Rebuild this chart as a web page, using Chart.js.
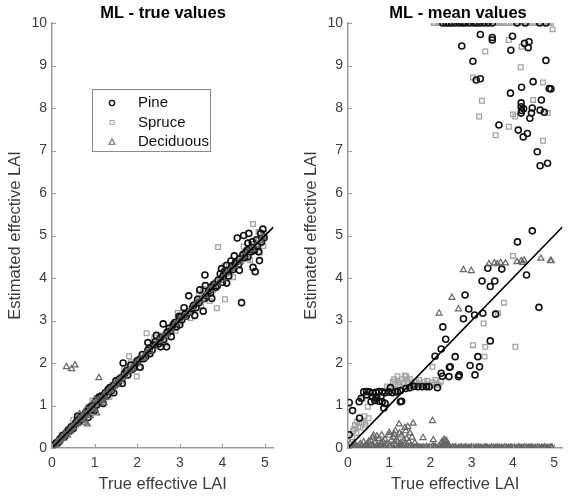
<!DOCTYPE html>
<html><head><meta charset="utf-8">
<script src="https://cdn.jsdelivr.net/npm/chart.js@4/dist/chart.umd.min.js"></script>
<style>
html,body{margin:0;padding:0;background:#fff;}
#wrap{position:relative;width:568px;height:500px;overflow:hidden;}
#c1{position:absolute;left:0;top:0;}
#c2{position:absolute;left:296px;top:0;}
</style></head><body>
<div id="wrap"><canvas id="c1" width="296" height="500"></canvas><canvas id="c2" width="272" height="500"></canvas></div>
<script>
// ---------- data ----------
const titles = ["ML - true values", "ML - mean values"];
const xLabel = "True effective LAI";
const yLabel = "Estimated effective LAI";
const seriesNames = ["Pine", "Spruce", "Deciduous"];
const xTicks = [0, 1, 2, 3, 4, 5];
const yTicks = [0, 1, 2, 3, 4, 5, 6, 7, 8, 9, 10];
const oneToOne = [[0, 0], [5.2, 5.2]];

// Left panel: ML - true values
const pineTrue = [[0.02,0.03],[0.05,0.06],[0.1,0.12],[0.15,0.13],[0.2,0.22],[0.25,0.3],[0.3,0.27],[0.38,0.42],[0.45,0.5],[0.5,0.46],[0.58,0.62],[0.65,0.7],[0.72,0.68],[0.8,0.85],[0.88,0.95],[0.95,0.9],[1.02,1.1],[1.1,1.2],[1.18,1.15],[1.25,1.3],[1.32,1.38],[1.4,1.35],[1.5,1.58],[1.55,1.52],[1.62,1.65],[1.67,2.0],[1.7,1.75],[1.78,1.72],[1.85,1.95],[1.92,1.88],[2.07,1.9],[2.05,2.08],[2.12,2.2],[2.2,2.15],[2.28,2.35],[2.35,2.3],[2.42,2.5],[2.5,2.45],[2.61,2.92],[2.62,2.55],[2.69,2.38],[2.7,2.72],[2.78,2.75],[2.85,2.9],[2.92,2.85],[2.98,3.1],[3.05,3.02],[3.12,3.15],[3.21,3.58],[3.25,3.2],[3.32,3.35],[3.38,3.3],[3.45,3.42],[3.47,3.72],[3.55,3.22],[3.59,4.07],[3.62,3.58],[3.68,3.7],[3.72,3.65],[3.8,3.85],[3.85,3.78],[3.9,3.95],[3.95,4.1],[4.0,3.9],[4.05,4.15],[4.1,4.3],[4.15,4.05],[4.2,4.4],[4.25,4.2],[4.3,4.35],[4.35,4.94],[4.4,4.45],[4.45,3.42],[4.48,4.55],[4.55,4.6],[4.6,4.5],[4.65,4.7],[4.7,4.85],[4.75,4.65],[4.77,4.15],[4.8,4.9],[4.87,4.41],[4.9,5.05],[4.95,5.15],[4.72,4.25],[4.5,5.0],[4.62,5.05],[3.0,2.9],[2.3,2.22],[1.3,1.24],[0.7,0.76],
[0.08,0.1],[0.18,0.2],[0.33,0.35],[0.42,0.4],[0.55,0.58],[0.62,0.6],[0.78,0.8],[0.92,0.98],[1.05,1.02],[1.15,1.22],[1.22,1.2],[1.36,1.42],[1.45,1.48],[1.58,1.62],[1.75,1.82],[1.88,1.85],[2.0,2.05],[2.15,2.1],[2.25,2.3],[2.38,2.42],[2.55,2.6],[2.75,2.82],[2.88,2.95],[3.02,3.08],[3.15,3.1],[3.3,3.28],[3.42,3.5],[3.58,3.52],[3.75,3.8],[3.88,3.82],[4.02,4.05],[4.12,4.18],[4.22,4.28],[4.38,4.32],[4.52,4.48],[4.58,4.65],[4.68,4.62],[4.82,4.75],[4.92,4.85],[4.98,4.95],
[0.85,0.72],[1.2,1.05],[1.45,1.3],[1.65,1.52],[2.25,2.48],[2.45,2.65],[2.55,2.38],[2.8,2.62],[3.1,3.3],[3.35,3.12],[3.6,3.82],[3.75,3.52],[3.98,4.22],[4.1,3.88],[4.28,4.52],[4.4,4.18],[4.6,4.82],[4.85,4.62],[0.6,0.75],[1.0,0.88]];
const spruceTrue = [[0.03,0.02],[0.08,0.1],[0.12,0.1],[0.18,0.2],[0.22,0.26],[0.28,0.25],[0.33,0.36],[0.4,0.38],[0.46,0.5],[0.52,0.55],[0.6,0.58],[0.68,0.72],[0.75,0.78],[0.82,0.8],[0.9,0.95],[0.98,1.02],[1.05,1.0],[1.12,1.18],[1.2,1.25],[1.28,1.22],[1.35,1.4],[1.42,1.48],[1.48,1.45],[1.55,1.6],[1.62,1.58],[1.68,1.72],[1.75,1.8],[1.81,2.16],[1.86,1.83],[1.92,1.98],[1.99,1.68],[2.02,2.05],[2.08,2.12],[2.15,2.1],[2.22,2.7],[2.25,2.28],[2.3,2.35],[2.38,2.4],[2.45,2.5],[2.52,2.48],[2.6,2.65],[2.68,2.62],[2.75,2.8],[2.82,2.88],[2.88,2.85],[2.95,3.0],[3.02,2.98],[3.1,3.12],[3.15,3.2],[3.22,3.28],[3.3,3.25],[3.36,3.4],[3.42,3.48],[3.48,3.45],[3.55,3.5],[3.6,3.65],[3.66,3.62],[3.72,3.78],[3.78,3.72],[3.84,3.9],[3.87,3.29],[3.9,4.73],[3.95,3.98],[4.0,4.05],[4.06,3.5],[4.08,4.12],[4.12,4.2],[4.18,4.15],[4.22,4.3],[4.28,4.25],[4.33,4.4],[4.38,4.42],[4.42,4.38],[4.48,4.52],[4.52,4.6],[4.58,4.55],[4.62,4.7],[4.68,4.65],[4.72,5.27],[4.75,4.8],[4.8,4.78],[4.85,4.92],[4.88,4.6],[4.92,4.98],[4.96,4.75],[4.98,5.05],[2.9,2.75],[3.5,3.35],[4.6,4.45],[1.3,1.35],[0.7,0.65],
[0.06,0.05],[0.15,0.17],[0.25,0.28],[0.36,0.33],[0.44,0.47],[0.56,0.53],[0.64,0.68],[0.78,0.75],[0.86,0.9],[0.94,0.92],[1.08,1.12],[1.16,1.13],[1.24,1.28],[1.38,1.35],[1.52,1.55],[1.65,1.62],[1.78,1.75],[1.95,1.92],[2.12,2.18],[2.28,2.25],[2.42,2.45],[2.56,2.55],[2.72,2.7],[2.85,2.92],[2.98,2.95],[3.12,3.18],[3.26,3.22],[3.4,3.42],[3.52,3.58],[3.68,3.65],[3.8,3.85],[3.98,3.95],[4.15,4.1],[4.3,4.35],[4.45,4.4],[4.55,4.62],[4.7,4.72],[4.82,4.88],[4.9,4.82],[4.95,5.0],
[0.5,0.66],[0.95,1.12],[1.35,1.2],[1.7,1.88],[2.05,1.88],[2.4,2.6],[2.65,2.46],[2.95,3.18],[3.25,3.06],[3.55,3.74],[3.7,3.46],[4.05,4.28],[4.25,4.02],[4.5,4.74],[4.65,4.42],[4.85,5.08],[1.85,2.02],[3.45,3.64]];
const deciduousTrue = [[0.02,0.0],[0.05,0.04],[0.1,0.08],[0.14,0.16],[0.18,0.15],[0.22,0.24],[0.26,0.22],[0.3,0.32],[0.34,1.91],[0.36,0.3],[0.4,0.42],[0.44,0.4],[0.46,1.86],[0.5,0.48],[0.54,1.95],[0.55,0.56],[0.6,0.58],[0.65,0.68],[0.7,0.66],[0.75,0.78],[0.8,0.92],[0.83,0.56],[0.88,0.9],[0.92,0.95],[0.98,0.96],[1.02,1.05],[1.05,0.82],[1.08,1.12],[1.1,1.65],[1.15,1.1],[1.2,1.22],[1.25,1.18],[1.3,1.32],[1.38,1.35],[1.45,1.48],[1.52,1.5],[1.6,1.62],[1.7,1.68],[1.8,1.82],[1.9,1.88],[2.0,2.02],[2.15,2.12],[2.3,2.28],[2.5,2.52],[2.7,2.68],[2.9,2.92],[3.1,3.08],[3.3,3.3],[3.5,3.48],[3.7,3.72],[3.9,3.88],[4.1,4.12],[4.3,4.28],[4.5,4.52],[4.7,4.68],[4.9,4.88],
[0.08,0.07],[0.12,0.14],[0.2,0.19],[0.28,0.3],[0.38,0.36],[0.48,0.5],[0.58,0.6],[0.68,0.7],[0.72,0.74],[0.85,0.82],[0.95,0.92],[1.12,1.15],[1.22,1.25],[1.35,1.38],[1.42,1.4],[1.55,1.58],[1.65,1.65],[1.75,1.78],[1.85,1.85],[2.08,2.1],[2.22,2.25],[2.4,2.38],[2.6,2.62],[2.8,2.78],[3.0,3.02],[3.2,3.18],[3.4,3.42],[3.6,3.58],[3.8,3.82],[4.0,3.98],[4.2,4.22],[4.4,4.38],[4.6,4.62],[4.8,4.78],[4.95,4.96],
[0.78,0.6],[0.9,0.76],[1.0,1.14],[1.22,1.06],[0.65,0.8]];

// Right panel: ML - mean values
const pineMean = [[2.3,10],[2.38,10],[2.45,10],[2.52,10],[2.6,10],[2.7,10],[2.78,10],[2.85,10],[2.95,10],[3.05,10],[3.12,10],[3.2,10],[3.3,10],[3.4,10],[3.5,10],[4.1,10],[4.3,10],[4.65,10],[4.8,10],
[2.76,9.46],[3.21,9.73],[3.5,9.6],[3.5,9.66],[3.99,9.69],[3.95,9.36],[4.28,9.52],[4.39,9.56],[4.37,9.42],[3.03,9.1],[3.11,8.66],[3.21,8.69],[4.8,9.12],[4.49,8.62],[4.21,8.49],[3.94,8.35],[4.88,8.46],[4.92,8.45],[4.2,8.12],[4.2,8.03],[4.21,7.94],[4.2,7.88],[4.26,7.98],[4.47,8.0],[4.45,7.88],[4.69,8.19],[4.66,7.95],[4.76,7.9],[4.41,7.76],[3.66,7.6],[4.13,7.48],[4.25,7.32],[4.35,7.4],[4.59,6.97],[4.66,6.64],[4.84,6.7],
[4.47,5.11],[4.11,4.85],[3.39,4.23],[3.73,4.21],[3.25,3.93],[3.56,3.93],[3.45,3.8],[4.33,4.07],[2.84,3.6],[2.93,3.27],[2.8,3.04],[3.07,3.13],[3.27,3.17],[3.58,3.15],[4.63,3.31],[2.3,2.85],[2.37,2.56],[2.26,2.33],[3.45,2.52],[2.6,2.15],[3.15,2.15],[2.96,1.94],[3.19,1.91],[2.7,1.72],[3.08,1.72],[2.48,1.91],[2.26,1.76],[2.29,1.69],[2.11,2.16],[2.45,1.68],[2.68,1.68],[2.46,1.9],
[1.7,1.44],[1.8,1.44],[1.9,1.44],[1.97,1.44],[2.17,1.42],[0.38,1.32],[0.52,1.32],[0.68,1.31],[0.83,1.32],[0.99,1.32],[1.15,1.33],[1.27,1.35],[0.03,1.07],[0.11,0.88],[0.27,1.09],[0.32,1.17],[0.56,1.09],[0.65,1.12],[0.75,1.1],[0.83,1.09],[1.27,1.09],[0.28,0.7],[0.03,0.31],[0.87,0.94],[1.03,1.42],[1.3,1.1],[0.6,1.2],[0.7,1.18],[1.5,1.42],[1.6,1.45],[0.9,1.05],[0.45,1.25],[0.45,1.33],[0.6,1.3],[0.75,1.33],[0.9,1.3],[1.08,1.3],[1.2,1.32],[0.8,1.22],[1.4,1.4]];
const spruceMean = [[2.08,10],[2.12,10],[2.18,10],[2.22,10],[2.25,10],[2.28,10],[2.32,10],[2.36,10],[2.4,10],[2.44,10],[2.48,10],[2.52,10],[2.55,10],[2.58,10],[2.62,10],[2.66,10],[2.7,10],[2.74,10],[2.78,10],[2.82,10],[2.86,10],[2.9,10],[2.94,10],[2.98,10],[3.02,10],[3.06,10],[3.12,10],[3.18,10],[3.22,10],[3.28,10],[3.32,10],[3.36,10],[3.4,10],[3.45,10],[3.52,10],[3.56,10],[3.6,10],[3.65,10],[3.7,10],[3.74,10],[3.78,10],[3.85,10],[3.9,10],[3.95,10],[4.02,10],[4.08,10],[4.12,10],[4.18,10],[4.25,10],[4.3,10],[4.34,10],[4.38,10],[4.45,10],[4.5,10],[4.55,10],[4.6,10],[4.62,10],[4.68,10],[4.72,10],[4.78,10],[4.84,10],[4.88,10],[4.92,10],[4.96,9.85],
[3.33,9.33],[3.9,9.6],[4.21,9.44],[4.19,8.96],[3.03,8.72],[3.25,8.17],[3.18,7.8],[3.9,7.56],[3.58,7.36],[4.06,7.8],[4.49,8.19],[4.73,8.6],[4.73,7.23],[4.84,7.88],[4.0,7.85],
[4.0,4.52],[3.78,3.42],[3.64,3.17],[3.29,2.93],[3.03,2.42],[4.06,2.38],[3.33,2.38],[3.31,2.15],[2.05,1.91],
[1.2,1.69],[1.41,1.69],[1.09,1.56],[1.15,1.5],[1.25,1.55],[1.35,1.52],[1.45,1.56],[1.55,1.5],[1.65,1.55],[1.75,1.52],[1.85,1.55],[1.95,1.5],[2.05,1.55],[2.15,1.52],[2.25,1.56],[1.3,1.62],[1.5,1.62],[1.12,1.62],[1.22,1.48],[1.32,1.45],[1.42,1.62],[1.52,1.45],[1.62,1.48],[1.72,1.6],[1.82,1.48],[1.92,1.58],[2.02,1.48],[2.12,1.6],[2.2,1.48],[1.38,1.7],
[0.17,0.54],[0.15,0.45],[0.22,0.62],[0.28,0.72],[0.33,0.6],[0.25,0.5],[0.4,0.75],[0.48,0.97],[0.35,1.15],[0.55,1.2],[0.5,0.7],[0.12,0.4],[0.95,1.45],[1.0,1.4],[0.3,0.48],[0.38,0.6],[0.2,0.35],[0.1,0.25],[0.42,0.55]];
const deciduousMean = [[2.21,3.17],[2.52,3.54],[2.68,3.27],[2.8,4.19],[2.99,4.17],[3.42,4.33],[3.55,4.35],[3.62,4.33],[3.7,4.36],[3.82,4.35],[4.1,4.38],[4.2,4.4],[4.24,4.36],[4.27,4.42],[4.68,4.46],[4.91,4.41],[4.93,4.4],
[1.24,0.56],[1.58,0.58],[2.05,0.64],[1.82,0.24],[2.07,0.19],[2.33,0.2],[1.4,0.4],[1.45,0.5],[1.5,0.35],[1.3,0.3],[1.1,0.25],[1.0,0.3],[0.9,0.2],[0.7,0.28],[0.6,0.25],[0.5,0.15],[1.2,0.15],[0.8,0.12],[1.35,0.18],[2.35,0.15],[2.3,0.08],[2.4,0.1],
[0.05,0.1],[0.15,0.12],[0.3,0.1],[0.38,0.14],[0.45,0.08],[0.55,0.18],[0.65,0.12],[0.75,0.22],[0.85,0.15],[0.95,0.1],[1.05,0.18],[1.12,0.32],[1.18,0.2],[1.28,0.12],[1.42,0.22],[1.48,0.14],[1.55,0.25],[1.62,0.12],[0.62,0.3],[0.82,0.3],[1.0,0.36],[1.15,0.4],[1.25,0.35],[1.38,0.48],[2.28,0.15],[2.32,0.12],[2.38,0.18],[2.42,0.08],[2.45,0.05],
[0.02,0.02],[0.1,0.03],[0.18,0.05],[0.25,0.04],[0.33,0.06],[0.41,0.05],[0.48,0.03],[0.56,0.06],[0.62,0.04],[0.71,0.07],[0.78,0.05],[0.86,0.03],[0.92,0.06],[1.01,0.04],[1.07,0.05],[1.15,0.07],[1.23,0.03],[1.3,0.05],[1.37,0.06],[1.46,0.04],[1.52,0.05],[1.61,0.02],[1.67,0.03],[1.76,0.01],[1.82,0.02],[1.91,0.03],[1.98,0.02],[2.06,0.04],[2.12,0.03],[2.21,0.05],[2.27,0.04],[2.36,0.06],[2.44,0.03],[2.53,0.02],[2.6,0.02],[2.69,0.01],[2.75,0.02],[2.84,0.02],[2.93,0.01],[3.0,0.02],[3.09,0.01],[3.16,0.02],[3.23,0.01],[3.32,0.02],[3.39,0.01],[3.48,0.02],[3.57,0.01],[3.63,0.02],[3.72,0.01],[3.8,0.02],[3.89,0.01],[3.95,0.02],[4.04,0.01],[4.13,0.02],[4.2,0.01],[4.28,0.02],[4.37,0.01],[4.44,0.02],[4.53,0.01],[4.6,0.02],[4.69,0.01],[4.76,0.02],[4.85,0.01],[4.92,0.02],
[0.07,0.0],[0.14,0.01],[0.22,0.02],[0.29,0.0],[0.37,0.01],[0.44,0.02],[0.52,0.0],[0.59,0.03],[0.67,0.01],[0.74,0.02],[0.82,0.0],[0.89,0.03],[0.97,0.01],[1.04,0.02],[1.11,0.0],[1.19,0.02],[1.27,0.01],[1.34,0.03],[1.41,0.0],[1.49,0.02],[1.57,0.01],[1.64,0.0],[1.72,0.02],[1.79,0.0],[1.87,0.01],[1.95,0.0],[2.02,0.01],[2.09,0.02],[2.17,0.0],[2.24,0.02],[2.32,0.01],[2.4,0.03],[2.48,0.0],[2.57,0.01],[2.64,0.0],[2.72,0.01],[2.8,0.0],[2.88,0.01],[2.97,0.0],[3.04,0.01],[3.12,0.0],[3.2,0.01],[3.28,0.0],[3.36,0.01],[3.44,0.0],[3.52,0.01],[3.6,0.0],[3.68,0.01],[3.76,0.0],[3.84,0.01],[3.92,0.0],[4.0,0.01],[4.08,0.0],[4.16,0.01],[4.24,0.0],[4.32,0.01],[4.4,0.0],[4.48,0.01],[4.56,0.0],[4.64,0.01],[4.72,0.0],[4.8,0.01],[4.88,0.0],[4.95,0.01]];

// ---------- styles ----------
const FONT = "'Liberation Sans', Arial, Helvetica, sans-serif";
const AXIS_COLOR = "#9a9a9a";
const TEXT_COLOR = "#3c3c3c";
const PINE_COLOR = "#111111";
const SPRUCE_COLOR = "#a2a2a2";
const DEC_COLOR = "#666666";

const toPts = a => a.map(p => ({x: p[0], y: p[1]}));

function datasets(pine, spruce, dec) {
  return [
    {label: "1:1", data: toPts(oneToOne), showLine: true, pointRadius: 0, borderColor: "#000", borderWidth: 1.6, order: 0},
    {label: seriesNames[2], data: toPts(dec), pointStyle: "triangle", pointRadius: 3.5, borderColor: DEC_COLOR, backgroundColor: "rgba(0,0,0,0)", borderWidth: 1.2, order: 1},
    {label: seriesNames[0], data: toPts(pine), pointStyle: "circle", pointRadius: 3.0, borderColor: PINE_COLOR, backgroundColor: "rgba(0,0,0,0)", borderWidth: 1.6, order: 2},
    {label: seriesNames[1], data: toPts(spruce), pointStyle: "rect", pointRadius: 3.3, borderColor: SPRUCE_COLOR, backgroundColor: "rgba(0,0,0,0)", borderWidth: 1.3, order: 3}
  ];
}

const decorPlugin = {
  id: "decor",
  afterDraw(chart, args, opts) {
    const ctx = chart.ctx, ca = chart.chartArea;
    const xs = chart.scales.x, ys = chart.scales.y;
    ctx.save();
    ctx.strokeStyle = AXIS_COLOR; ctx.lineWidth = 1;
    xTicks.forEach(v => { const px = Math.round(xs.getPixelForValue(v)) + 0.5; ctx.beginPath(); ctx.moveTo(px, ca.bottom); ctx.lineTo(px, ca.bottom - 4); ctx.stroke(); });
    yTicks.forEach(v => { const py = Math.round(ys.getPixelForValue(v)) + 0.5; ctx.beginPath(); ctx.moveTo(ca.left, py); ctx.lineTo(ca.left + 4, py); ctx.stroke(); });
    ctx.fillStyle = "#000"; ctx.font = "bold 16.5px " + FONT; ctx.textAlign = "center"; ctx.textBaseline = "middle";
    ctx.fillText(opts.title, opts.titleX, 13);
    if (opts.legend) {
      const L = opts.legend;
      ctx.fillStyle = "#fff"; ctx.fillRect(L.x, L.y, L.w, L.h);
      ctx.strokeStyle = "#8a8a8a"; ctx.lineWidth = 1; ctx.strokeRect(L.x + 0.5, L.y + 0.5, L.w, L.h);
      const rows = [{n: seriesNames[0], c: PINE_COLOR, s: "circle"}, {n: seriesNames[1], c: SPRUCE_COLOR, s: "rect"}, {n: seriesNames[2], c: DEC_COLOR, s: "triangle"}];
      ctx.font = "15px " + FONT; ctx.textAlign = "left"; ctx.textBaseline = "middle";
      rows.forEach((r, i) => {
        const cy = L.y + 14 + i * 19.5, cx = L.x + 20;
        ctx.strokeStyle = r.c; ctx.lineWidth = r.s === "circle" ? 1.4 : 1.1;
        ctx.beginPath();
        if (r.s === "circle") ctx.arc(cx, cy, 2.6, 0, Math.PI * 2);
        else if (r.s === "rect") ctx.rect(cx - 2, cy - 2, 4, 4);
        else { ctx.moveTo(cx, cy - 3); ctx.lineTo(cx + 3, cy + 2.2); ctx.lineTo(cx - 3, cy + 2.2); ctx.closePath(); }
        ctx.stroke();
        ctx.fillStyle = "#111"; ctx.fillText(r.n, L.x + 46, cy);
      });
    }
    ctx.restore();
  }
};

function options(title, padRight, legend) {
  return {
    responsive: false, animation: false, devicePixelRatio: 1,
    layout: {padding: {top: 23, right: padRight, bottom: 0, left: 0}},
    plugins: {legend: {display: false}, tooltip: {enabled: false}, decor: {title: title, titleX: 0, legend: legend}},
    scales: {
      x: {type: "linear", min: 0, max: 5.2,
        afterBuildTicks: s => { s.ticks = xTicks.map(v => ({value: v})); },
        afterFit: s => { s.height = 52; },
        grid: {display: true, drawOnChartArea: false, drawTicks: false},
        border: {display: true, color: AXIS_COLOR, width: 1.5},
        ticks: {color: TEXT_COLOR, font: {family: FONT, size: 14}, padding: 7, maxRotation: 0, autoSkip: false},
        title: {display: true, text: xLabel, color: TEXT_COLOR, font: {family: FONT, size: 16.5}, padding: {top: 0, bottom: 6}}
      },
      y: {type: "linear", min: 0, max: 10,
        afterBuildTicks: s => { s.ticks = yTicks.map(v => ({value: v})); },
        afterFit: s => { s.width = 52; },
        grid: {display: true, drawOnChartArea: false, drawTicks: false},
        border: {display: true, color: AXIS_COLOR, width: 1.5},
        ticks: {color: TEXT_COLOR, font: {family: FONT, size: 14}, padding: 5, autoSkip: false},
        title: {display: true, text: yLabel, color: TEXT_COLOR, font: {family: FONT, size: 16.5}, padding: {top: 6, bottom: 0}}
      }
    }
  };
}

const o1 = options(titles[0], 22.5, {x: 92, y: 89, w: 118, h: 62});
o1.plugins.decor.titleX = 163;
new Chart(document.getElementById("c1"), {type: "scatter", data: {datasets: datasets(pineTrue, spruceTrue, deciduousTrue)}, options: o1, plugins: [decorPlugin]});

const o2 = options(titles[1], 0, null);
o2.plugins.decor.titleX = 458 - 296;
new Chart(document.getElementById("c2"), {type: "scatter", data: {datasets: datasets(pineMean, spruceMean, deciduousMean)}, options: o2, plugins: [decorPlugin]});
</script>
</body></html>
